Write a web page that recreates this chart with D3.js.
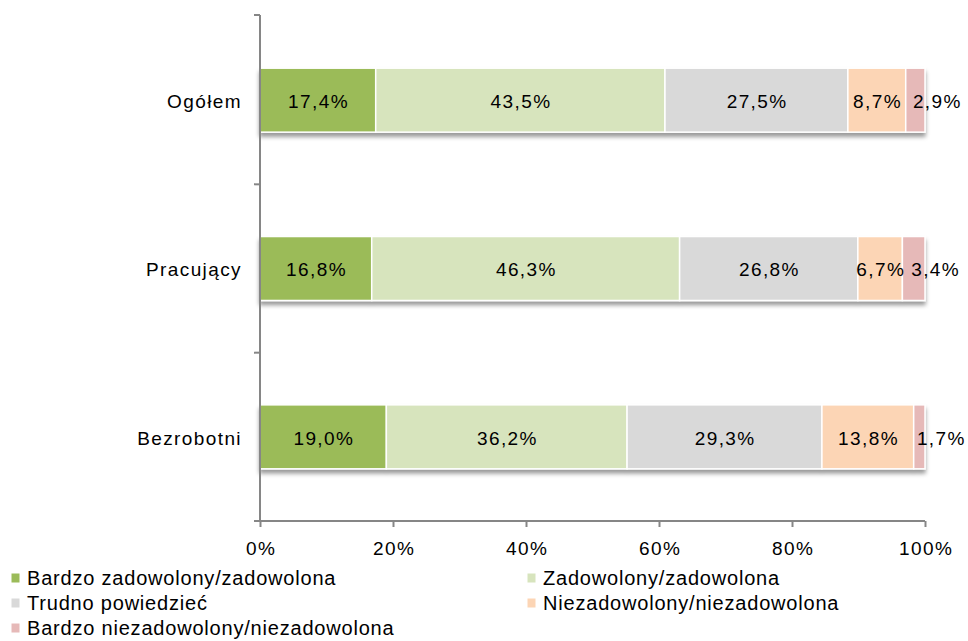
<!DOCTYPE html>
<html>
<head>
<meta charset="utf-8">
<script src="https://cdn.jsdelivr.net/npm/d3@7"></script>
<style>
  body { margin: 0; background: #fff; }
  text { font-family: "Liberation Sans", Arial, sans-serif; fill: #000; }
</style>
</head>
<body>
<svg id="chart" width="968" height="641"></svg>
<script>
const categories = ['Ogółem', 'Pracujący', 'Bezrobotni'];
const seriesNames = ['Bardzo zadowolony/zadowolona', 'Zadowolony/zadowolona', 'Trudno powiedzieć',
    'Niezadowolony/niezadowolona', 'Bardzo niezadowolony/niezadowolona'];
const ogolem = [17.4, 43.5, 27.5, 8.7, 2.9];
const pracujacy = [16.8, 46.3, 26.8, 6.7, 3.4];
const bezrobotni = [19.0, 36.2, 29.3, 13.8, 1.7];
const xTicks = [0, 20, 40, 60, 80, 100];
const colors = ['#9bbb59', '#d7e4bd', '#d9d9d9', '#fcd5b5', '#e6b9b8'];

const values = [ogolem, pracujacy, bezrobotni];
const rows = categories.map((c, i) => {
    const r = { cat: c };
    seriesNames.forEach((s, j) => { r[s] = values[i][j]; });
    return r;
});

const svg = d3.select('#chart');
const plotLeft = 260, plotRight = 925, plotTop = 16, plotBottom = 521;
const labelFont = '19px';
const labelSpacing = '1.4px';

const x = d3.scaleLinear().domain([0, 100]).range([plotLeft, plotRight]);
const y = d3.scaleBand().domain(categories).range([plotTop, plotBottom]).paddingInner(0.62).paddingOuter(0.31);

// cień pod słupkami
const defs = svg.append('defs');
const f = defs.append('filter').attr('id', 'shadow')
    .attr('x', '-5%').attr('y', '-20%').attr('width', '110%').attr('height', '160%');
f.append('feDropShadow').attr('dx', 0).attr('dy', 4).attr('stdDeviation', 2)
    .attr('flood-color', '#000').attr('flood-opacity', 0.4);

const stacked = d3.stack().keys(seriesNames)(rows);

const barGroup = svg.append('g').attr('filter', 'url(#shadow)');
barGroup.selectAll('g')
    .data(stacked)
    .enter()
    .append('g')
    .attr('fill', (d, i) => colors[i])
    .selectAll('rect')
    .data(d => d)
    .enter()
    .append('rect')
    .attr('x', d => x(d[0]))
    .attr('y', d => y(d.data.cat))
    .attr('width', d => x(d[1]) - x(d[0]))
    .attr('height', y.bandwidth())
    .attr('stroke', '#fff')
    .attr('stroke-width', 1.5);

// etykiety wartości
const fmt = v => v.toFixed(1).replace('.', ',') + '%';
stacked.forEach((s, i) => {
    svg.append('g').selectAll('text')
        .data(s)
        .enter()
        .append('text')
        .attr('x', d => i === 4 ? x(d[0]) + (x(d[1]) - x(d[0])) / 2 + 22 : (x(d[0]) + x(d[1])) / 2 + 0.7)
        .attr('y', d => y(d.data.cat) + y.bandwidth() / 2 + 1)
        .attr('dy', '0.36em')
        .attr('text-anchor', 'middle')
        .style('font-size', labelFont)
        .style('letter-spacing', labelSpacing)
        .text(d => fmt(d[1] - d[0]));
});

// oś y
const yAxis = svg.append('g');
yAxis.append('line')
    .attr('x1', plotLeft).attr('x2', plotLeft).attr('y1', plotTop - 1).attr('y2', plotBottom)
    .attr('stroke', '#868686').attr('stroke-width', 2);
const bounds = [plotTop - 1].concat(categories.map(c => y(c) + y.bandwidth() + y.step() * y.paddingInner() / 2));
yAxis.selectAll('.ytick')
    .data(bounds)
    .enter()
    .append('line')
    .attr('x1', plotLeft - 6).attr('x2', plotLeft)
    .attr('y1', d => d).attr('y2', d => d)
    .attr('stroke', '#868686').attr('stroke-width', 2);
yAxis.selectAll('.ylab')
    .data(categories)
    .enter()
    .append('text')
    .attr('x', plotLeft - 18)
    .attr('y', d => y(d) + y.bandwidth() / 2 + 1)
    .attr('dy', '0.36em')
    .attr('text-anchor', 'end')
    .style('font-size', labelFont)
    .style('letter-spacing', labelSpacing)
    .text(d => d);

// oś x
const xAxis = d3.axisBottom(x)
    .tickValues(xTicks)
    .tickSize(6)
    .tickPadding(15)
    .tickFormat(d => d + '%');
const gx = svg.append('g')
    .attr('transform', 'translate(0,' + plotBottom + ')')
    .call(xAxis);
gx.select('.domain').remove();
gx.append('line')
    .attr('x1', plotLeft - 6).attr('x2', plotRight).attr('y1', 0).attr('y2', 0)
    .attr('stroke', '#868686').attr('stroke-width', 2);
gx.selectAll('.tick line').attr('stroke', '#868686').attr('stroke-width', 2);
gx.selectAll('.tick text')
    .attr('dx', '0.7px')
    .style('font-size', labelFont)
    .style('letter-spacing', labelSpacing)
    .style('font-family', '"Liberation Sans", Arial, sans-serif')
    .attr('fill', '#000');

// legenda
const legendPos = [[11, 578], [527, 578], [11, 603], [527, 603], [11, 628]];
const legend = svg.append('g').selectAll('g')
    .data(seriesNames)
    .enter()
    .append('g')
    .attr('transform', (d, i) => 'translate(' + legendPos[i][0] + ',' + legendPos[i][1] + ')');
legend.append('rect')
    .attr('x', 0).attr('y', -5)
    .attr('width', 9).attr('height', 10)
    .attr('fill', (d, i) => colors[i])
    .attr('stroke', '#fff');
legend.append('text')
    .attr('x', 16)
    .attr('dy', '0.36em')
    .style('font-size', '20px')
    .style('letter-spacing', '0.8px')
    .text(d => d);
</script>
</body>
</html>
